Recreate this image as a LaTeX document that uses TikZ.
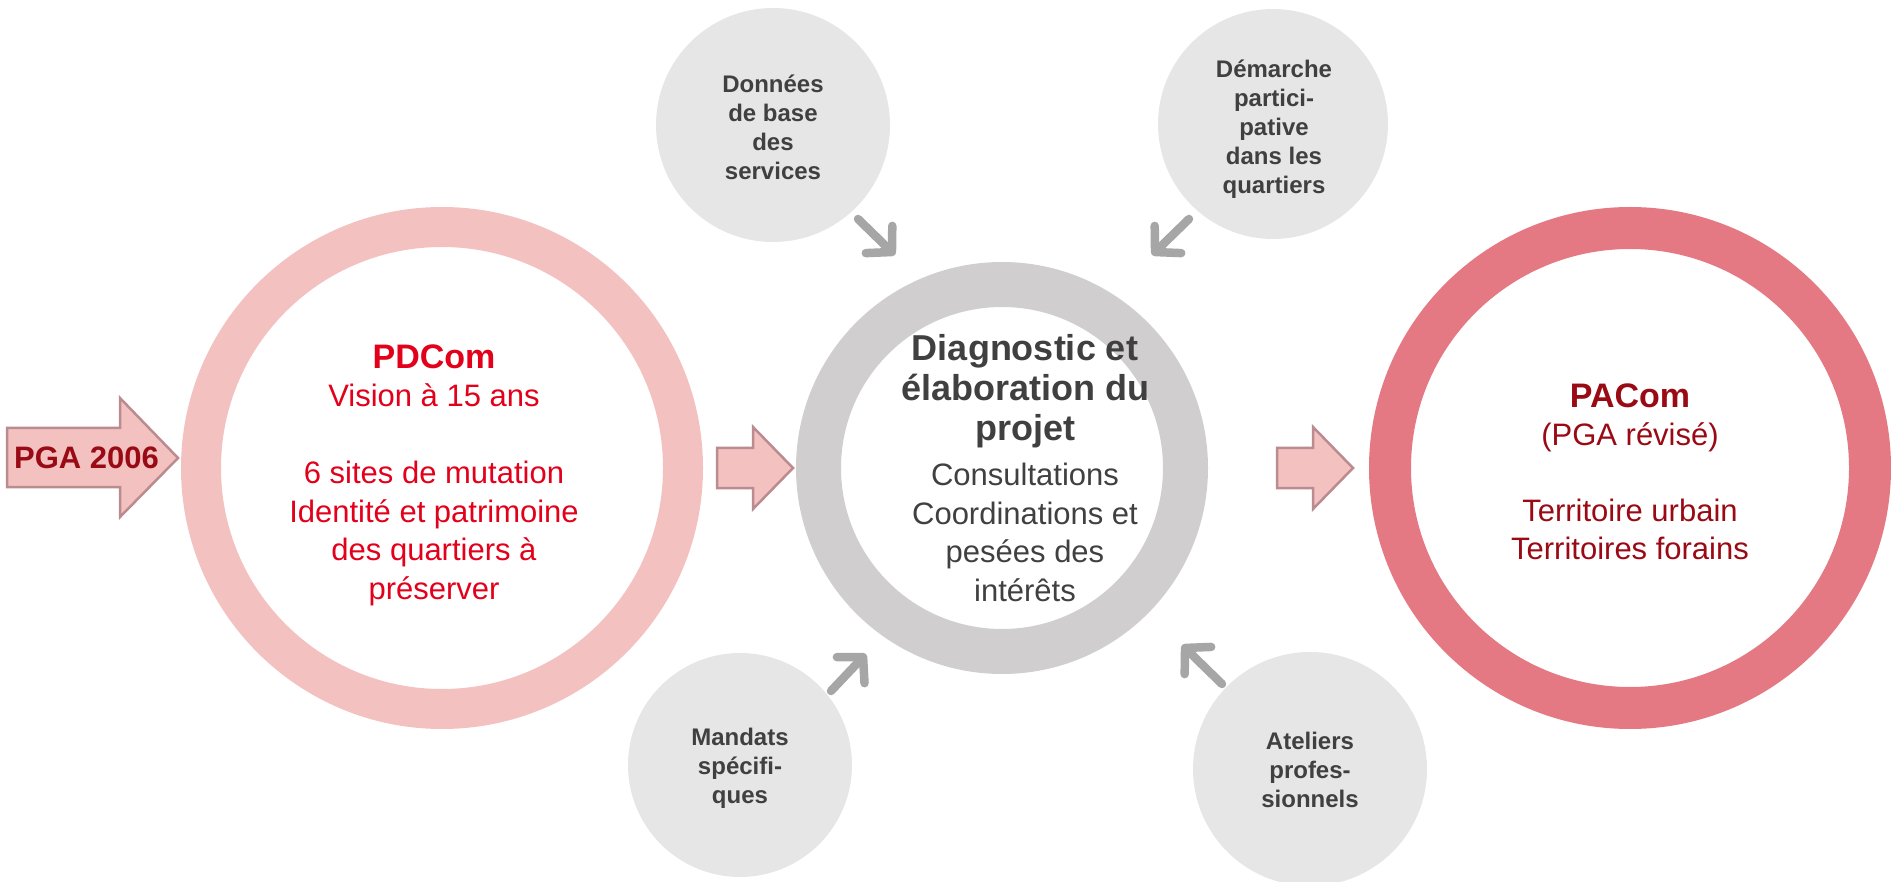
\documentclass[tikz,border=0pt]{standalone}
\usepackage{fontspec}
\setmainfont{Liberation Sans}
\usetikzlibrary{arrows.meta}
\definecolor{ringpink}{HTML}{F4C1C1}
\definecolor{ringgray}{HTML}{D0CECE}
\definecolor{ringred}{HTML}{E57983}
\definecolor{bubblegray}{HTML}{E6E6E6}
\definecolor{arrowgray}{HTML}{A6A6A6}
\definecolor{arrowborder}{HTML}{BA8C8F}
\definecolor{brightred}{HTML}{E2001A}
\definecolor{darkred}{HTML}{990A14}
\definecolor{darktext}{HTML}{404040}
\begin{document}
\begin{tikzpicture}[x=1pt,y=-1pt,
  ring/.style={circle, fill=none, inner sep=0pt, outer sep=0pt},
  bubble/.style={circle, fill=bubblegray, inner sep=0pt, outer sep=0pt},
  feed/.style={draw=arrowgray, line width=8.5pt, line cap=round,
    -{Straight Barb[length=18pt,width=38pt,round]}},
  blockarrow/.style={fill=ringpink, draw=arrowborder, line width=2.5pt, line join=miter},
  bigtext/.style={align=center, font=\fontsize{31}{38.5}\selectfont},
  smalltext/.style={align=center, text=darktext, font=\fontsize{24}{29}\selectfont\bfseries}
]
\useasboundingbox (0,0) rectangle (1891,882);

% main rings
\node[ring, draw=ringpink, line width=40pt, minimum size=482pt] (pdcom) at (442,468) {};
\node[ring, draw=ringgray, line width=45pt, minimum size=367pt] (diag) at (1002,468) {};
\node[ring, draw=ringred, line width=42pt, minimum size=480pt] (pacom) at (1630,468) {};

% bubbles
\node[bubble, minimum size=234pt] (donnees) at (773,125) {};
\node[bubble, minimum size=230pt] (demarche) at (1273,124) {};
\node[bubble, minimum size=224pt] (mandats) at (740,765) {};
\node[bubble, minimum size=234pt] (ateliers) at (1310,769) {};

% feed arrows
\coordinate (f1s) at (858,219); \coordinate (f1e) at (895,255);
\coordinate (f2s) at (1189,219); \coordinate (f2e) at (1152,255);
\coordinate (f3s) at (831,691); \coordinate (f3e) at (866,654);
\coordinate (f4s) at (1222,684); \coordinate (f4e) at (1182,645);
\draw[feed] (f1s) -- (f1e);
\draw[feed] (f2s) -- (f2e);
\draw[feed] (f3s) -- (f3e);
\draw[feed] (f4s) -- (f4e);

% block arrows
\draw[blockarrow] (7,428) -- (120,428) -- (120,398) -- (178,458) -- (120,517) -- (120,487) -- (7,487) -- cycle;
\draw[blockarrow] (717,448) -- (753,448) -- (753,427) -- (793,468) -- (753,509) -- (753,488) -- (717,488) -- cycle;
\draw[blockarrow] (1277,448) -- (1313,448) -- (1313,427) -- (1353,468) -- (1313,509) -- (1313,488) -- (1277,488) -- cycle;

% texts
\node[anchor=base, text=darkred, font=\fontsize{31}{36}\selectfont\bfseries, inner sep=0pt] (pga) at (86.5,468) {PGA 2006};

\node[bigtext, text=brightred] (tpdcom) at (434,475)
  {{\fontsize{34}{40}\selectfont\bfseries PDCom}\\Vision à 15 ans\\[38.5pt]6 sites de mutation\\Identité et patrimoine\\des quartiers à\\préserver};

\node[bigtext, text=darktext] (tdiag) at (1025,468)
  {{\fontsize{36}{40}\selectfont\bfseries Diagnostic et}\\[1.5pt]{\fontsize{36}{40}\selectfont\bfseries élaboration du}\\[1.5pt]{\fontsize{36}{40}\selectfont\bfseries projet}\\[7pt]Consultations\\Coordinations et\\pesées des\\intérêts};

\node[bigtext, text=darkred] (tpacom) at (1630,472)
  {{\fontsize{34}{40}\selectfont\bfseries PACom}\\(PGA révisé)\\[37pt]Territoire urbain\\Territoires forains};

\node[smalltext] (tdonnees) at (773,127) {Données\\de base\\des\\services};
\node[smalltext] (tdemarche) at (1274,129) {Démarche\\partici-\\pative\\dans les\\quartiers};
\node[smalltext] (tmandats) at (740,768) {Mandats\\spécifi-\\ques};
\node[smalltext] (tateliers) at (1310,770) {Ateliers\\profes-\\sionnels};
\end{tikzpicture}
\end{document}
